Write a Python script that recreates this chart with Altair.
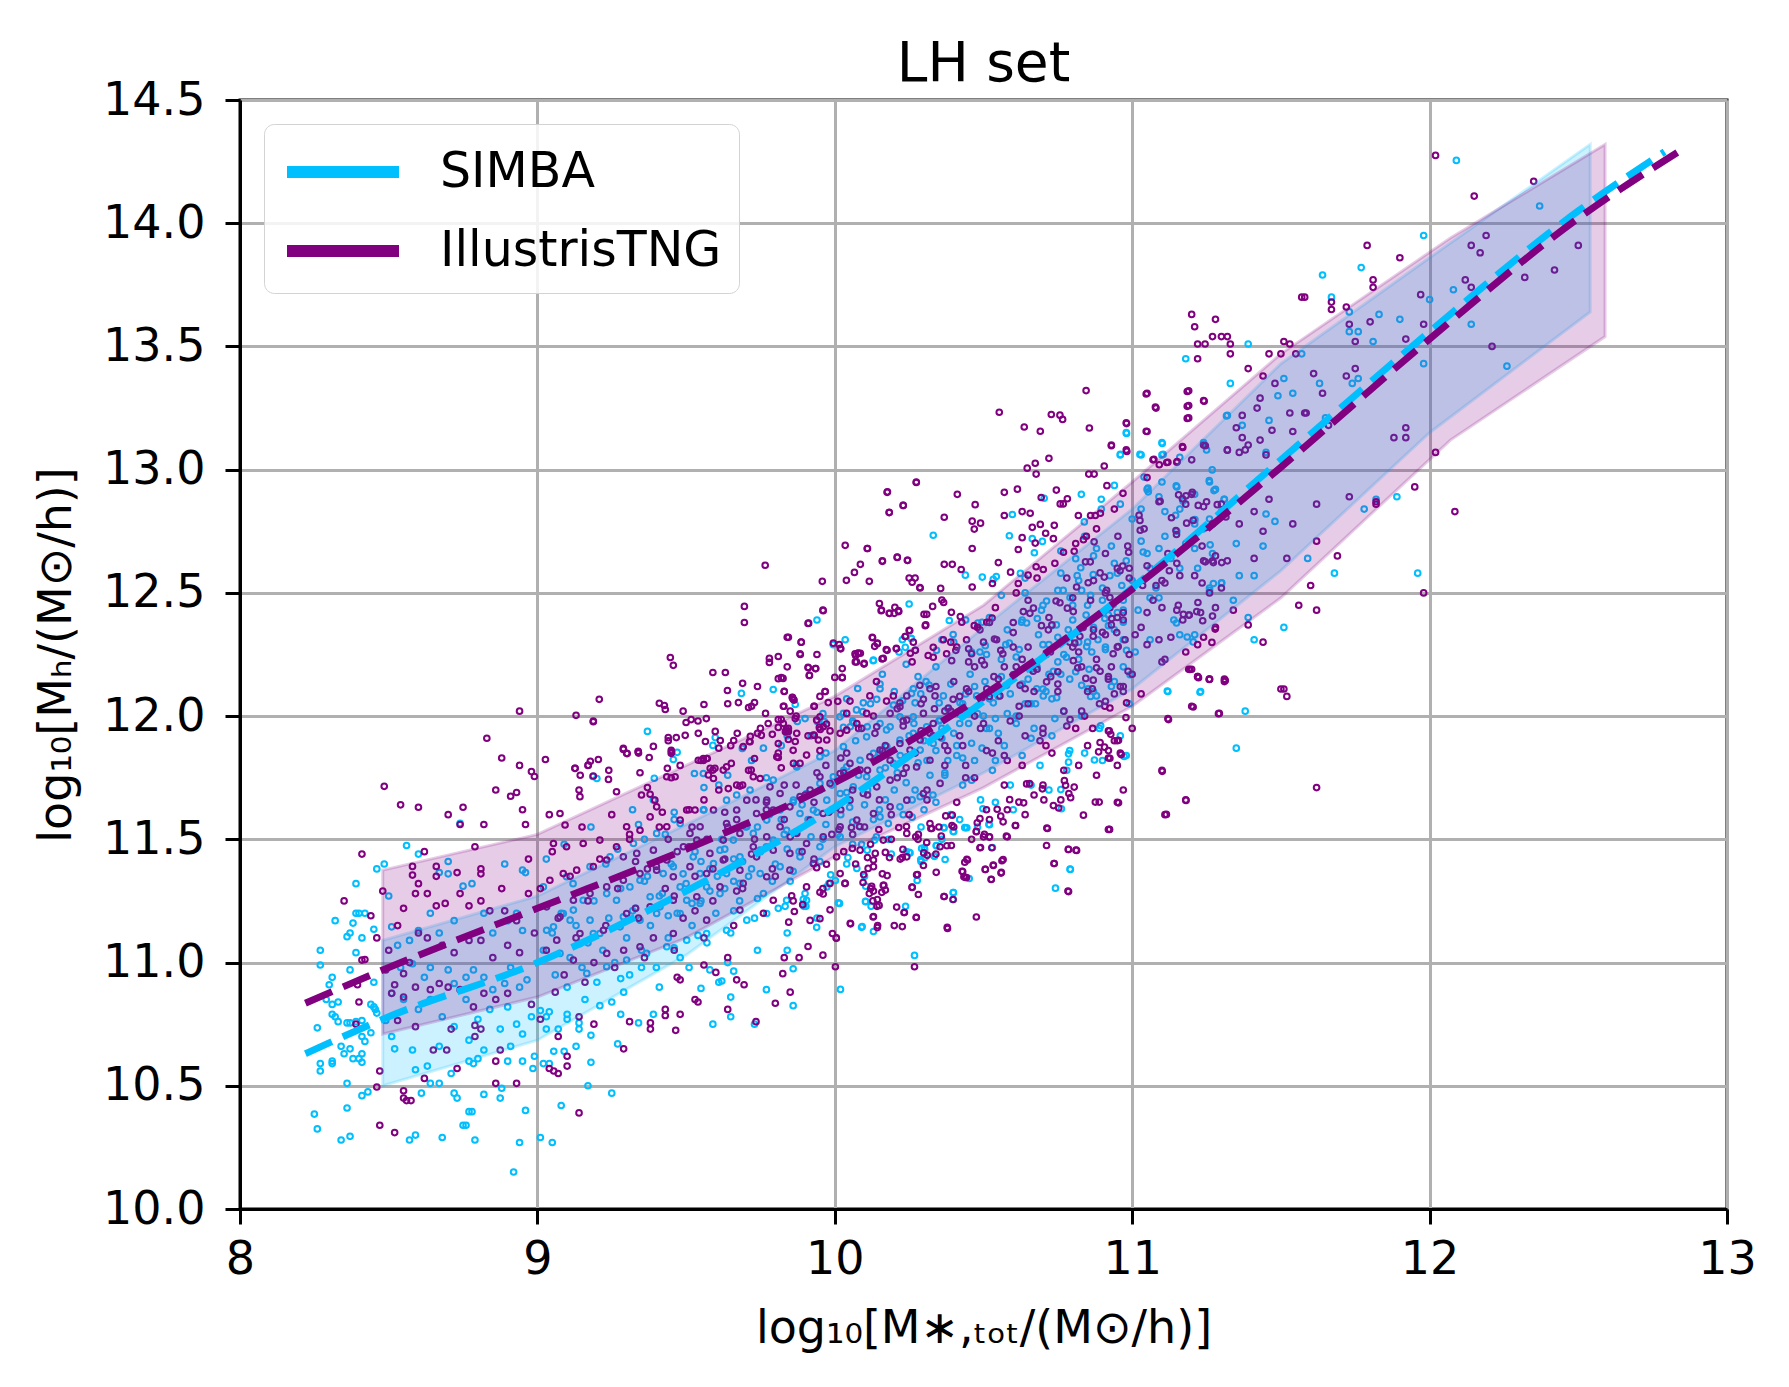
import altair as alt
import pandas as pd

# ---------------- data ----------------
X_TICKS = [8, 9, 10, 11, 12, 13]
Y_TICKS = [10.0, 10.5, 11.0, 11.5, 12.0, 12.5, 13.0, 13.5, 14.0, 14.5]

# mean relations (dashed)
simba_mean_x = [8.22, 8.5, 9.0, 9.5, 10.0, 10.5, 11.0, 11.5, 12.0, 12.5, 12.79]
simba_mean_y = [10.63, 10.78, 11.0, 11.29, 11.63, 12.06, 12.52, 13.04, 13.56, 14.05, 14.29]
tng_mean_x = [8.22, 8.5, 9.0, 9.5, 10.0, 10.5, 11.0, 11.5, 12.0, 12.5, 12.85]
tng_mean_y = [10.835, 10.98, 11.22, 11.46, 11.73, 12.085, 12.515, 13.01, 13.53, 14.02, 14.30]

# scatter bands
simba_band_x = [8.48, 9.0, 9.5, 10.0, 10.5, 11.0, 11.5, 12.0, 12.54]
simba_band_lo = [10.50, 10.685, 11.03, 11.47, 11.77, 12.11, 12.59, 13.15, 13.64]
simba_band_hi = [11.09, 11.27, 11.56, 11.86, 12.36, 12.84, 13.43, 13.86, 14.32]
tng_band_x = [8.48, 9.0, 9.5, 10.0, 10.5, 11.0, 11.5, 12.07, 12.59]
tng_band_lo = [10.71, 10.86, 11.10, 11.43, 11.71, 12.04, 12.48, 13.12, 13.54]
tng_band_hi = [11.375, 11.52, 11.80, 12.08, 12.45, 12.95, 13.47, 13.94, 14.32]

# SIMBA galaxies
simba_low = [
    [8.74,11.565],[8.56,11.475],[8.60,11.44],[8.485,11.40],[8.46,11.38],[8.70,11.41],[8.67,11.365],[8.70,11.36],
    [8.89,11.40],[8.95,11.375],[8.96,11.365],[8.39,11.32],[8.32,11.17],[8.39,11.20],[8.40,11.20],[8.42,11.20],
    [8.38,11.16],[8.37,11.12],[8.36,11.105],[8.41,11.10],[8.45,11.135],[8.27,11.05],[8.39,11.04],[8.27,10.99],
    [8.37,10.97],[8.31,10.94],[8.30,10.91],[8.45,10.92],[8.29,10.85],[8.31,10.83],[8.33,10.84],[8.44,10.83],
    [8.45,10.82],[8.31,10.79],[8.32,10.78],[8.33,10.76],[8.36,10.755],[8.37,10.755],[8.39,10.76],[8.41,10.765],
    [8.455,10.81],[8.46,10.795],[8.26,10.735],[8.44,10.715],[8.41,10.70],[8.42,10.68],[8.34,10.66],[8.37,10.65],
    [8.35,10.63],[8.41,10.63],[8.40,10.61],[8.38,10.61],[8.41,10.595],[8.27,10.59],[8.31,10.59],[8.31,10.60],
    [8.27,10.56],[8.36,10.51],[8.43,10.475],[8.41,10.46],[8.25,10.385],[8.36,10.41],[8.26,10.325],[8.34,10.28],
    [8.37,10.295],[8.57,10.28],[8.59,10.30],[8.68,10.29],[8.79,10.28],[8.75,10.34],[8.76,10.34],[8.77,10.395],
    [8.78,10.395],[8.92,10.15],[8.94,10.27],[9.01,10.29],[9.05,10.27],[8.96,10.40],[9.08,10.42],[9.25,10.47],
    [9.17,10.50],[8.61,10.47],[8.72,10.47],[8.73,10.45],[8.82,10.465],[8.875,10.45],[8.88,10.49],[8.64,10.51],
    [8.67,10.51],[8.71,10.55],[8.59,10.565],[8.63,10.58],[8.77,10.60],[8.785,10.59],[8.80,10.61],[8.90,10.60],
    [8.95,10.60],[8.99,10.62],[8.985,10.57],[9.02,10.59],[9.04,10.59],[9.055,10.64],[9.09,10.64],[9.18,10.595],
    [9.27,10.67],[9.18,10.705],[9.28,10.79],[9.39,10.79],[9.59,10.75],[9.65,10.78],[9.73,10.75],[9.55,10.895],
    [9.65,10.86],[9.77,10.89],[9.86,10.825],[9.61,10.92],[9.62,10.925],[9.66,10.965],[9.58,10.97],[9.86,10.975],
    [9.84,11.05],[9.03,10.78],[9.04,10.80],[9.01,10.805],[9.10,10.79],[9.14,10.755],[9.10,10.77],[9.14,10.73],
    [9.07,10.73],[9.03,10.73],[9.13,10.66],[9.34,10.755],[9.21,10.825],[9.25,10.84],[9.28,10.935],
    [8.50,11.27],[8.51,11.145],[8.53,11.07],[8.57,11.09],[8.60,11.13],[8.64,11.20],[8.67,11.12],[8.72,11.17],
    [8.75,11.31],[8.78,11.32],[8.82,11.20],[8.85,11.12],[8.90,11.17],[8.93,11.20],[8.95,11.13],[8.54,10.98],
    [8.58,10.995],[8.62,10.94],[8.64,10.98],[8.70,10.97],[8.72,10.915],[8.76,10.94],[8.785,10.97],[8.82,10.94],
    [8.85,10.89],[8.89,10.915],[8.91,10.98],[8.94,10.90],[8.965,10.93],[8.51,10.875],[8.55,10.85],[8.60,10.81],
    [8.64,10.85],[8.68,10.78],[8.72,10.74],[8.76,10.85],[8.80,10.77],[8.84,10.81],[8.875,10.73],[8.90,10.82],
    [8.93,10.75],[8.98,10.78],[8.51,10.70],[8.58,10.645],[8.67,10.66],[8.77,10.685],[8.82,10.645],[8.91,10.66],
    [8.95,10.71],[8.49,10.765],[8.52,10.65],
]
simba_mid1 = [
    [9.02,11.05],[9.05,11.12],[9.06,10.95],[9.08,11.20],[9.10,10.90],[9.11,11.02],[9.13,11.15],[9.15,10.98],
    [9.17,11.08],[9.19,11.25],[9.20,10.92],[9.22,11.05],[9.24,11.18],[9.26,11.00],[9.28,11.30],[9.30,11.10],
    [9.31,10.95],[9.33,11.22],[9.35,11.05],[9.37,11.35],[9.38,11.15],[9.40,10.98],[9.42,11.28],[9.44,11.10],
    [9.45,11.40],[9.47,11.20],[9.48,11.02],[9.50,11.32],[9.52,11.15],[9.53,11.45],[9.55,11.25],[9.57,11.08],
    [9.58,11.38],[9.60,11.20],[9.62,11.50],[9.63,11.30],[9.65,11.12],[9.66,11.42],[9.68,11.25],[9.70,11.55],
    [9.71,11.35],[9.73,11.18],[9.75,11.45],[9.76,11.28],[9.78,11.60],[9.80,11.40],[9.81,11.22],[9.83,11.52],
    [9.85,11.33],[9.86,11.65],[9.88,11.45],[9.90,11.28],[9.91,11.58],[9.93,11.40],[9.95,11.70],[9.96,11.50],
    [9.98,11.32],[9.99,11.62],[9.12,11.32],[9.23,11.40],[9.36,11.50],[9.46,11.58],[9.56,11.62],[9.67,11.68],
    [9.77,11.75],[9.87,11.80],[9.97,11.85],[9.16,10.85],[9.29,10.88],[9.41,10.90],[9.51,10.98],[9.64,11.00],
    [9.74,11.05],[9.84,11.12],[9.94,11.18],[9.896,11.228],[9.903,11.228],[9.833,11.228],[9.939,11.143],
    [9.894,11.257],[9.986,11.356],[9.94,12.39],[9.686,12.092],[9.793,12.108],[9.867,12.047],[9.995,12.29],
    [9.874,11.978],[9.90,11.99],[9.941,11.978],[9.965,11.978],[9.37,11.938],[9.598,11.913],[9.47,11.853],
    [9.457,11.824],[9.59,11.881],[9.689,11.869],[9.528,11.767],[9.558,11.767],[9.393,11.748],[9.186,11.755],
    [9.20,11.747],[9.03,11.42],[9.09,11.48],[9.18,11.55],[9.27,11.46],[9.32,11.62],[9.43,11.52],[9.39,11.66],
    [9.61,11.72],[9.72,11.82],[9.82,11.88],[9.92,11.92],
]
simba_core = [
    [9.031,11.131],[9.054,11.145],[9.087,11.199],[9.110,11.172],[9.121,11.213],[9.154,11.253],[9.177,11.172],
    [9.188,11.118],[9.233,11.280],[9.266,11.253],[9.289,11.186],[9.311,11.307],[9.345,11.334],[9.379,11.267],
    [9.401,11.199],[9.423,11.361],[9.457,11.389],[9.480,11.307],[9.502,11.253],[9.524,11.429],[9.547,11.361],
    [9.569,11.307],[9.592,11.402],[9.614,11.456],[9.636,11.361],[9.659,11.497],[9.681,11.429],[9.704,11.551],
    [9.726,11.524],[9.749,11.456],[9.771,11.578],[9.793,11.497],[9.816,11.619],[9.838,11.537],[9.861,11.659],
    [9.883,11.605],[9.905,11.686],[9.928,11.619],[9.950,11.727],[9.973,11.659],[9.995,11.754],[10.018,11.686],
    [10.040,11.794],[10.062,11.713],[10.085,11.821],[10.107,11.754],[10.130,11.849],[10.152,11.781],[10.175,11.876],
    [10.197,11.808],[10.219,11.903],[10.242,11.835],[10.264,11.930],[10.287,11.862],[10.309,11.957],[10.331,11.889],
    [10.354,11.984],[9.076,11.037],[9.143,11.077],[9.210,11.118],[9.278,11.145],[9.345,11.172],[9.412,11.226],
    [9.480,11.199],[9.547,11.240],[9.614,11.280],[9.681,11.321],[9.749,11.361],[9.816,11.389],[9.883,11.429],
    [9.950,11.470],[10.018,11.510],[10.085,11.551],[10.152,11.591],[10.219,11.632],[10.287,11.673],[9.020,11.307],
    [9.098,11.348],[9.177,11.389],[9.244,11.429],[9.323,11.483],[9.401,11.524],[9.480,11.564],[9.558,11.619],
    [9.636,11.659],[9.715,11.700],[9.793,11.740],[9.872,11.794],[9.950,11.835],[10.029,11.876],[10.107,11.916],
    [10.186,11.957],[10.264,11.997],[9.569,11.118],[9.636,11.131],[9.704,11.172],[9.771,11.199],[9.838,11.253],
    [9.905,11.253],[9.973,11.307],[9.502,11.091],[9.435,11.064],[9.367,11.037],[9.300,11.010],[9.233,10.983],
    [9.166,10.956],
    [10.36,11.91],[10.38,12.03],[10.41,11.84],[10.42,11.97],[10.44,12.09],[10.46,11.89],[10.48,12.01],[10.505,12.14],
    [10.52,11.95],[10.545,12.11],[10.56,12.23],[10.58,12.01],[10.605,12.17],[10.62,12.27],[10.64,12.05],[10.66,12.19],
    [10.685,12.33],[10.70,12.11],[10.72,12.29],[10.745,12.37],[10.76,12.17],[10.785,12.35],[10.80,12.45],[10.82,12.23],
    [10.845,12.41],[10.86,12.49],[10.885,12.31],[10.90,12.47],[10.925,12.57],[10.94,12.35],[10.965,12.53],[10.98,12.63],
    [10.37,11.77],[10.43,11.83],[10.495,11.87],[10.55,11.93],[10.61,11.97],[10.675,12.05],[10.73,12.07],[10.79,12.15],
    [10.855,12.19],[10.91,12.27],[10.97,12.31],[10.39,12.13],[10.455,12.17],[10.51,12.25],[10.575,12.29],[10.63,12.39],
    [10.695,12.43],[10.75,12.51],[10.815,12.57],[10.87,12.65],[10.93,12.69],
]
simba_core2 = [
    [9.32,11.21],[9.36,11.33],[9.41,11.27],[9.44,11.19],[9.49,11.36],[9.52,11.24],[9.55,11.41],[9.58,11.29],
    [9.605,11.35],[9.63,11.46],[9.66,11.33],[9.69,11.41],[9.72,11.38],[9.74,11.55],[9.77,11.47],[9.79,11.33],
    [9.82,11.58],[9.84,11.46],[9.87,11.53],[9.89,11.64],[9.92,11.51],[9.94,11.61],[9.97,11.56],[9.99,11.72],
    [10.02,11.60],[10.04,11.69],[10.06,11.57],[10.08,11.76],[10.10,11.64],[10.13,11.73],[10.15,11.62],[10.17,11.79],
    [10.20,11.70],[10.22,11.84],[10.24,11.73],[10.26,11.66],[10.28,11.81],[10.30,11.90],[10.32,11.76],[10.34,11.86],
    [10.36,11.95],[10.38,11.82],[10.40,11.93],[10.43,12.05],[10.45,11.97],[10.47,12.12],[10.50,12.00],[10.52,12.07],
    [10.54,11.99],[10.56,12.16],[10.59,12.09],[10.61,12.24],[10.63,12.13],[10.66,12.05],[10.68,12.20],[10.70,12.29],
    [10.72,12.17],[10.75,12.32],[10.77,12.25],[10.80,12.39],[10.82,12.30],[10.85,12.45],[10.87,12.36],[10.90,12.52],
    [10.92,12.41],[10.95,12.58],[10.97,12.47],[11.00,12.55],[11.03,12.71],[11.06,12.60],[11.08,12.52],[11.11,12.73],
    [11.13,12.64],[11.16,12.84],[11.18,12.70],[11.21,12.90],[11.24,12.76],[11.27,12.66],[11.30,12.83],
    [9.35,10.98],[9.46,11.06],[9.54,11.11],[9.66,11.21],[9.74,11.26],[9.86,11.37],[9.95,11.41],[10.06,11.48],
    [10.14,11.51],[10.26,11.59],[10.34,11.65],[10.46,11.74],[10.54,11.82],[10.66,11.91],[10.74,11.99],[10.86,12.08],
    [10.94,12.14],[11.06,12.31],[11.14,12.39],[11.26,12.51],[9.34,11.56],[9.46,11.61],[9.56,11.71],[9.64,11.76],
    [9.76,11.87],[9.84,11.92],[9.96,12.01],[10.04,12.07],[10.16,12.17],[10.24,12.21],[10.36,12.31],[10.44,12.39],
    [10.56,12.49],[10.64,12.56],[10.76,12.67],[10.84,12.73],[10.96,12.86],[11.04,12.97],[11.16,13.05],[11.24,13.11],
]
simba_mid2 = [
    [10.035,12.31],[10.227,12.31],[10.257,12.315],[10.27,12.267],[10.25,12.455],[10.13,12.227],[10.152,12.13],
    [10.077,12.112],[10.307,12.14],[10.258,12.092],[10.228,12.062],[10.197,12.045],[10.317,12.126],[10.289,12.09],
    [10.029,12.011],[10.094,12.018],[10.052,11.957],[10.063,11.973],[10.109,11.957],[10.152,11.97],[10.174,11.944],
    [10.219,11.997],[10.266,11.97],[10.331,12.734],[10.597,12.818],[10.704,12.884],[10.829,12.90],[10.896,12.88],
    [10.94,12.936],[10.896,12.84],[10.839,12.788],[10.587,12.732],[10.664,12.72],[10.698,12.709],[10.671,12.663],
    [10.439,12.572],[10.496,12.564],[10.543,12.566],[10.533,12.555],[10.624,12.579],[10.81,12.639],[10.827,12.602],
    [10.981,13.147],[10.96,13.062],[11.026,13.062],[11.101,13.106],[11.104,13.062],[11.037,12.666],
    [10.129,12.225],[10.216,12.26],[10.237,12.279],[10.257,12.316],[10.385,12.388],
    [10.398,12.331],[10.342,12.267],[10.481,12.378],[10.495,12.381],[10.488,12.26],[10.506,12.286],[10.587,12.296],
    [10.628,12.381],[10.645,12.378],[10.681,12.396],[10.729,12.367],[10.712,12.467],[10.768,12.51],[10.791,12.481],
    [10.83,12.51],[10.869,12.574],[10.936,12.453],[10.908,12.396],[10.92,12.367],[10.97,12.381],[10.981,12.267],
    [10.847,12.282],[10.864,12.26],[10.779,12.239],[10.83,12.125],[10.852,12.111],[10.88,12.082],[10.993,12.168],
    [10.746,12.075],[10.735,12.182],[10.679,12.111],[10.701,12.082],[10.578,12.125],[10.533,12.054],[10.477,12.082],
    [10.421,12.054],[10.365,12.082],[10.351,12.054],[10.264,12.111],[10.27,12.054],[10.152,12.111],[10.141,12.068],
    [10.096,12.054],[10.073,12.025],[10.017,11.997],[10.029,11.954],
    [10.01,11.52],[10.03,11.78],[10.05,11.63],[10.07,11.90],[10.09,11.48],[10.11,11.70],[10.13,11.58],[10.15,11.85],
    [10.17,11.66],[10.19,11.44],[10.21,11.77],[10.23,11.60],[10.25,11.92],[10.27,11.70],[10.29,11.55],[10.31,11.82],
    [10.33,11.68],[10.35,11.98],[10.37,11.76],[10.39,11.60],[10.41,11.88],[10.43,11.72],[10.45,12.02],[10.47,11.82],
    [10.49,11.66],[10.51,11.95],[10.53,11.78],[10.55,12.08],[10.57,11.88],[10.59,11.72],[10.61,12.00],[10.63,11.84],
    [10.65,12.15],[10.67,11.95],[10.69,11.80],[10.71,12.10],[10.73,11.92],[10.75,12.22],[10.77,12.02],[10.79,11.86],
    [10.81,12.18],[10.83,12.00],[10.85,12.30],[10.87,12.10],[10.89,11.95],[10.91,12.28],[10.93,12.12],[10.95,12.42],
    [10.97,12.20],[10.99,12.05],[10.04,11.40],[10.10,11.35],[10.18,11.50],[10.24,11.45],[10.30,11.62],[10.36,11.50],
    [10.42,11.58],[10.48,11.55],[10.54,11.65],[10.60,11.62],[10.66,11.72],[10.72,11.70],[10.78,11.78],[10.84,11.85],
    [10.90,11.82],[10.96,11.92],[10.06,11.98],[10.12,12.05],[10.20,12.10],[10.28,12.16],[10.34,12.20],[10.40,12.30],
    [10.46,12.26],[10.52,12.40],[10.58,12.35],[10.64,12.50],[10.70,12.45],[10.76,12.58],[10.82,12.55],[10.88,12.68],
    [10.94,12.62],[11.00,12.80],
    [10.335,11.432],[10.342,11.474],[10.289,11.418],[10.253,11.445],[10.301,11.466],[10.40,11.531],[10.367,11.546],
    [10.399,11.284],[10.397,11.256],[10.238,11.228],[10.104,11.247],[10.09,11.143],[10.012,11.242],[10.439,11.547],
    [10.444,11.547],[10.518,11.561],[10.498,11.624],[10.742,11.302],[10.791,11.379],[10.762,11.624],[10.76,11.702],
    [10.786,11.847],[10.786,11.813],[10.873,11.822],[10.894,11.961],[10.973,11.836],[10.792,11.378],[10.53,11.467],
    [10.452,11.341],[10.371,11.418],[10.335,11.431],[10.341,11.475],[10.398,11.284],[10.268,11.029],[10.019,10.891],
    [10.092,11.146],[10.13,11.126],[10.122,11.228],[10.103,11.248],[10.016,11.24],[10.104,11.31],[10.002,11.333],
    [10.277,11.333],[10.074,11.382],[10.29,11.41],[10.304,11.426],[10.25,11.447],[10.044,11.426],[10.109,11.456],
    [10.367,11.548],[10.398,11.532],[10.52,11.559],[10.437,11.548],[10.292,11.463],[10.302,11.459],[10.18,11.564],
    [10.134,11.497],
]
simba_high = [
    [12.09,14.255],[12.37,14.07],[11.98,13.95],[11.77,13.82],[11.64,13.79],[11.67,13.70],[11.73,13.64],
    [12.00,13.69],[11.90,13.61],[12.14,13.59],[11.73,13.56],[11.76,13.56],[11.83,13.63],[11.81,13.52],[12.08,13.73],
    [11.98,13.43],[12.26,13.42],[11.18,13.45],[11.39,13.51],[11.57,13.47],[11.51,13.37],[11.33,13.35],[11.49,13.30],
    [11.54,13.31],[11.63,13.35],[11.74,13.35],[11.76,13.37],[11.32,13.22],[11.46,13.20],[11.65,13.21],[11.37,13.18],
    [10.98,13.15],[10.96,13.06],[11.03,13.06],[11.10,13.11],[11.10,13.06],[11.25,13.08],[11.45,13.07],[11.89,12.89],
    [11.82,12.88],[11.78,12.84],[11.96,12.58],[11.68,12.58],[11.59,12.64],[11.51,12.36],[11.41,12.31],[11.39,12.40],
    [11.23,12.10],[11.12,12.10],[11.38,12.02],[11.35,11.87],[10.98,11.84],[11.317,13.218],
    [11.275,12.915],[11.259,12.956],[11.269,12.999],[11.309,12.88],[11.262,12.695],[11.273,12.538],[11.301,12.541],
    [11.149,12.378],[11.185,12.321],[11.205,12.301],[11.228,12.097],[11.118,12.102],[11.146,12.815],[11.148,12.934],
    [11.171,12.872],[11.211,12.797],[11.054,12.91],[11.053,12.925],
    [11.10,12.95],[11.15,12.93],[11.05,12.92],[11.26,12.95],[11.28,12.92],[11.09,12.89],[11.17,12.88],[11.31,12.88],
    [11.11,12.83],[11.03,12.84],[11.26,12.80],[11.21,12.78],[11.15,12.75],[11.09,12.68],[11.35,12.70],[11.44,12.69],
    [11.48,12.79],[11.45,12.82],[11.21,12.68],[11.05,12.66],[11.16,12.60],[11.22,12.60],[11.30,12.54],[11.26,12.52],
    [11.41,12.57],[11.36,12.57],[11.34,12.47],[11.06,12.48],[11.09,12.48],[10.97,12.43],[11.02,12.43],[11.01,12.26],
    [11.16,12.33],[11.21,12.33],
]

# IllustrisTNG galaxies
tng_low = [
    [8.94,12.02],[8.83,11.91],[8.485,11.715],[8.54,11.64],[8.60,11.63],[8.75,11.63],[8.70,11.60],[8.74,11.56],
    [8.82,11.56],[8.88,11.83],[8.94,11.80],[8.98,11.775],[8.99,11.755],[8.86,11.70],[8.93,11.69],[8.91,11.675],
    [8.95,11.62],[8.96,11.56],[8.41,11.44],[8.62,11.45],[8.58,11.39],[8.66,11.39],[8.73,11.365],[8.81,11.36],
    [8.81,11.38],[8.58,11.355],[8.60,11.32],[8.35,11.25],[8.44,11.19],[8.41,11.01],[8.42,11.012],[8.395,10.91],
    [8.40,10.84],[8.39,10.75],[8.47,10.56],[8.46,10.495],[8.47,10.34],[8.52,10.31],[9.14,10.39],[8.55,10.48],
    [8.56,10.44],[8.575,10.44],[8.55,10.45],[8.86,10.51],[8.93,10.51],[8.62,10.53],[8.73,10.57],[8.86,10.60],
    [9.07,10.55],[9.055,10.56],[9.10,10.62],[9.10,10.58],[9.29,10.65],[9.19,10.75],[9.31,10.76],[9.38,10.755],
    [9.38,10.73],[9.43,10.81],[9.465,10.725],[9.43,10.785],[9.48,10.79],[9.64,10.81],[9.735,10.76],[9.47,10.94],
    [9.48,10.93],[9.53,10.85],[9.54,10.84],[9.80,10.835],[9.85,10.88],[9.695,10.91],[9.67,10.93],[9.60,10.96],
    [9.56,10.99],[9.64,11.02],[9.825,10.955],[9.88,11.02],[9.83,11.02],[9.96,11.03],[10.005,11.10],[9.91,11.065],
    [9.01,10.77],[9.14,10.78],[9.07,10.70],[9.04,10.57],
    [8.48,11.29],[8.55,11.22],[8.59,11.28],[8.63,11.28],[8.66,11.23],[8.69,11.24],[8.74,11.28],[8.77,11.23],
    [8.81,11.25],[8.84,11.21],[8.89,11.21],[8.93,11.17],[8.60,11.12],[8.63,11.10],[8.68,11.07],[8.72,11.04],
    [8.77,11.09],[8.81,11.09],[8.85,11.02],[8.90,11.07],[8.94,11.04],[8.49,10.97],[8.52,10.91],[8.55,10.955],
    [8.59,10.90],[8.64,10.89],[8.67,10.915],[8.70,10.90],[8.74,10.89],[8.785,10.82],[8.82,10.875],[8.86,10.85],
    [8.90,10.875],[8.98,10.83],[8.51,10.875],[8.55,10.86],[8.53,10.765],[8.59,10.74],[8.65,10.645],[8.695,10.645],
    [8.79,10.745],[8.81,10.73],[8.79,10.70],[8.875,10.645],[8.71,10.73],[8.50,11.05],[8.53,11.15],[8.57,11.00],
    [8.66,11.35],[8.79,11.47],[8.88,11.30],[8.97,11.42],[8.46,11.10],[8.97,11.28],[8.99,11.12],
]
tng_core = [
    [9.076,11.605],[9.093,11.558],[9.126,11.788],[9.143,11.673],[9.171,11.801],[9.188,11.977],[9.205,11.824],
    [9.239,11.743],[9.266,11.693],[9.289,11.869],[9.300,11.849],[9.339,11.855],[9.345,11.770],[9.379,11.683],
    [9.395,11.659],[9.401,11.632],[9.435,11.754],[9.451,11.855],[9.463,11.754],[9.502,11.619],[9.530,11.619],
    [9.541,11.821],[9.558,11.828],[9.569,11.828],[9.575,11.761],[9.592,11.747],[9.597,11.788],[9.625,11.781],
    [9.636,11.794],[9.642,11.706],[9.670,11.720],[9.681,11.716],[9.692,11.876],[9.715,11.896],[9.726,11.754],
    [9.749,11.747],[9.782,11.713],[9.805,11.835],[9.810,11.889],[9.838,11.936],[9.844,11.950],[9.861,11.808],
    [9.872,11.930],[9.883,11.808],[9.905,11.842],[9.928,11.923],[9.945,11.903],[9.961,11.957],[9.973,11.903],
    [9.939,11.984],[10.018,11.930],[10.040,11.943],[10.074,11.970],[10.107,12.011],[10.141,11.957],[10.186,12.011],
    [10.219,12.038],[10.242,11.984],[10.298,12.011],[10.331,11.970],[9.054,11.483],[9.098,11.470],[9.154,11.483],
    [9.210,11.497],[9.266,11.470],[9.300,11.551],[9.345,11.537],[9.379,11.591],[9.435,11.551],[9.480,11.578],
    [9.513,11.524],[9.547,11.551],[9.592,11.619],[9.636,11.564],[9.670,11.619],[9.704,11.659],[9.737,11.605],
    [9.771,11.659],[9.793,11.619],[9.816,11.686],[9.849,11.632],[9.883,11.673],[9.917,11.700],[9.950,11.754],
    [9.984,11.727],[10.018,11.767],[10.051,11.808],[10.085,11.781],[10.118,11.835],[10.152,11.862],[10.186,11.821],
    [10.219,11.889],[10.253,11.862],[10.287,11.903],[10.320,11.930],[10.354,11.916],[9.042,11.334],[9.087,11.361],
    [9.132,11.375],[9.188,11.389],[9.233,11.416],[9.289,11.429],[9.334,11.443],[9.390,11.456],[9.435,11.416],
    [9.491,11.470],[9.536,11.497],[9.580,11.443],[9.625,11.497],[9.681,11.524],[9.726,11.470],[9.771,11.510],
    [9.816,11.551],[9.872,11.524],[9.917,11.578],[9.961,11.605],[10.006,11.632],[10.051,11.659],[10.096,11.686],
    [10.141,11.713],[10.186,11.740],[10.231,11.767],[10.275,11.794],[10.320,11.821],[9.031,11.226],[9.076,11.186],
    [9.121,11.253],[9.177,11.280],[9.233,11.307],[9.289,11.334],[9.345,11.361],[9.401,11.375],[9.457,11.348],
    [9.513,11.389],[9.569,11.361],[9.625,11.416],[9.681,11.375],[9.737,11.429],[9.793,11.456],[9.849,11.443],
    [9.905,11.483],[9.961,11.510],[10.018,11.551],[10.074,11.578],[10.130,11.605],[10.186,11.632],[10.242,11.659],
    [10.298,11.686],[10.354,11.727],[9.065,11.091],[9.143,11.118],[9.222,11.131],[9.300,11.199],[9.379,11.226],
    [9.457,11.253],[9.536,11.267],[9.614,11.307],[9.692,11.321],[9.771,11.348],[9.849,11.375],[9.928,11.402],
    [10.006,11.429],[10.085,11.456],[10.163,11.497],[10.242,11.524],[10.320,11.564],[9.121,11.010],[9.233,11.037],
    [9.345,11.064],[9.457,11.118],[9.569,11.172],[9.681,11.213],[9.793,11.253],[9.905,11.307],[10.018,11.361],
    [10.130,11.389],[10.242,11.429],[10.354,11.470],
    [10.37,12.02],[10.40,12.14],[10.42,11.92],[10.45,12.22],[10.47,12.00],[10.50,12.30],[10.52,12.08],[10.55,11.90],
    [10.57,12.20],[10.60,12.38],[10.62,12.00],[10.65,12.28],[10.67,12.10],[10.70,11.95],[10.72,12.40],[10.75,12.18],
    [10.77,12.02],[10.80,12.48],[10.82,12.26],[10.85,12.10],[10.87,12.55],[10.90,12.34],[10.92,12.16],[10.95,12.60],
    [10.97,12.42],[10.99,12.25],[10.38,11.86],[10.44,11.80],[10.51,11.86],[10.58,11.82],[10.64,11.92],[10.71,11.88],
    [10.78,11.96],[10.84,12.00],[10.91,12.06],[10.97,12.10],[10.41,12.28],[10.48,12.36],[10.54,12.44],[10.61,12.50],
    [10.68,12.56],[10.74,12.62],[10.81,12.70],[10.88,12.76],[10.94,12.84],
]
tng_core2 = [
    [9.31,11.52],[9.34,11.18],[9.37,11.71],[9.40,11.39],[9.42,11.61],[9.46,11.27],[9.48,11.80],[9.51,11.47],
    [9.53,11.21],[9.56,11.66],[9.59,11.38],[9.61,11.87],[9.64,11.55],[9.67,11.29],[9.69,11.72],[9.72,11.44],
    [9.74,11.93],[9.77,11.62],[9.80,11.35],[9.82,11.79],[9.85,11.51],[9.87,12.00],[9.90,11.68],[9.93,11.42],
    [9.95,11.86],[9.98,11.61],[10.01,12.06],[10.03,11.77],[10.06,11.52],[10.09,11.95],[10.11,11.68],[10.14,12.14],
    [10.16,11.86],[10.19,11.60],[10.21,12.03],[10.24,11.79],[10.26,12.22],[10.29,11.94],[10.31,11.66],[10.34,12.12],
    [10.37,11.88],[10.39,12.30],[10.42,12.01],[10.44,11.75],[10.47,12.20],[10.50,11.97],[10.52,12.38],[10.55,12.11],
    [10.57,11.84],[10.60,12.28],[10.62,12.04],[10.65,12.47],[10.68,12.19],[10.70,11.93],[10.73,12.37],[10.75,12.13],
    [10.78,12.56],[10.80,12.28],[10.83,12.02],[10.86,12.47],[10.88,12.23],[10.91,12.66],[10.93,12.37],[10.96,12.12],
    [10.99,12.56],[11.01,12.33],[11.04,12.76],[11.07,12.47],[11.10,12.22],[11.12,12.66],[11.15,12.43],[11.18,12.86],
    [11.21,12.57],[11.24,12.32],[11.27,12.78],[11.30,12.52],
    [9.33,11.41],[9.44,11.50],[9.52,11.55],[9.63,11.61],[9.735,11.66],[9.83,11.72],[9.94,11.77],[10.02,11.83],
    [10.135,11.93],[10.23,11.96],[10.335,12.03],[10.42,12.08],[10.535,12.16],[10.63,12.23],[10.725,12.26],[10.835,12.36],
    [10.925,12.44],[11.035,12.53],[11.125,12.59],[11.235,12.69],
]
tng_mid1 = [
    [9.01,11.30],[9.03,11.05],[9.05,11.45],[9.07,11.18],[9.09,10.95],[9.11,11.35],[9.13,11.10],[9.15,11.55],
    [9.17,11.25],[9.19,11.00],[9.21,11.42],[9.23,11.15],[9.25,11.60],[9.27,11.30],[9.29,11.05],[9.31,11.50],
    [9.33,11.22],[9.35,11.68],[9.37,11.38],[9.39,11.10],[9.41,11.55],[9.43,11.30],[9.45,11.75],[9.47,11.45],
    [9.49,11.18],[9.51,11.62],[9.53,11.35],[9.55,11.82],[9.57,11.50],[9.59,11.25],[9.61,11.70],[9.63,11.42],
    [9.65,11.88],[9.67,11.58],[9.69,11.30],[9.71,11.78],[9.73,11.50],[9.75,11.95],[9.77,11.65],[9.79,11.38],
    [9.81,11.85],[9.83,11.58],[9.85,12.02],[9.87,11.72],[9.89,11.45],[9.91,11.92],[9.93,11.65],[9.95,12.08],
    [9.97,11.80],[9.99,11.52],[9.04,11.60],[9.14,11.70],[9.24,11.78],[9.34,11.85],[9.44,11.90],[9.54,11.98],
    [9.64,12.05],[9.74,12.12],[9.84,12.20],[9.94,12.25],[9.06,10.88],[9.16,10.92],[9.26,10.98],[9.36,11.02],
    [9.46,11.05],[9.56,11.10],[9.66,11.15],[9.76,11.20],[9.86,11.25],[9.96,11.30],
    [10.274,12.95],[10.177,12.91],[10.183,12.827],[10.23,12.855],[10.035,12.693],[10.11,12.68],[10.16,12.63],
    [10.21,12.644],[10.245,12.632],[10.086,12.616],[10.066,12.583],[10.039,12.551],[10.116,12.547],[10.25,12.56],
    [10.27,12.56],[10.26,12.543],[10.287,12.52],[9.766,12.612],[9.958,12.547],[9.696,12.445],[9.696,12.38],
    [9.96,12.43],[9.91,12.376],[9.84,12.32],[9.887,12.30],[9.884,12.25],[9.78,12.234],[9.78,12.218],[9.81,12.242],
    [9.91,12.198],[9.935,12.193],[9.915,12.165],[9.447,12.238],[9.457,12.206],[9.59,12.177],[9.632,12.177],
    [9.69,12.133],[9.639,12.104],[9.83,12.10],[9.81,12.152],[9.82,12.156],[9.857,12.076],[9.86,12.068],
    [9.967,12.10],[9.208,12.068],[9.13,12.003],[9.188,11.98],[9.41,12.052],[9.427,12.043],[9.43,12.027],
    [9.49,12.02],[9.56,12.047],[9.676,12.055],[9.71,12.035],[9.73,12.055],[9.72,12.04],[9.767,12.011],
    [9.827,12.04],[9.931,12.04],[9.978,12.055],[10.025,12.193],[10.025,12.157],[10.0,12.157],[10.127,12.318],
    [10.134,12.283],[10.143,12.294],[10.015,12.29],[10.019,12.275],[10.07,12.246],[10.08,12.255],[10.086,12.255],
    [10.069,12.22],[10.099,12.214],[10.163,12.234],[10.173,12.27],[10.207,12.275],[10.237,12.323],[10.25,12.348],
    [10.264,12.30],[10.254,12.255],[10.157,12.43],[10.183,12.417],[10.20,12.417],[10.214,12.428],[10.15,12.457],
    [10.309,12.413],[10.306,12.37],
    [9.027,11.824],[9.127,11.788],[9.144,11.76],[9.17,11.80],[9.178,11.817],[9.188,11.757],[9.289,11.865],
    [9.302,11.848],[9.339,11.857],[9.376,11.832],[9.39,11.877],[9.437,11.788],[9.44,11.913],[9.467,11.913],
    [9.45,11.861],[9.45,11.849],[9.497,11.922],[9.50,11.974],[9.517,11.986],[9.568,11.99],[9.541,11.93],
    [9.565,11.897],[9.598,11.938],[9.615,11.901],[9.672,11.93],[9.66,11.901],[9.716,11.918],[9.713,11.897],
    [9.753,11.922],[9.776,11.97],[9.81,11.986],[9.82,11.986],[9.827,11.97],[9.867,11.99],[9.79,11.926],
    [9.837,11.946],[9.844,11.938],[9.834,11.937],[9.81,11.954],[9.844,11.905],[9.931,11.922],[9.948,11.954],
    [9.951,11.946],[9.867,11.897],[9.86,11.861],[9.81,11.832],[9.73,11.828],[9.652,11.808],[9.719,11.781],
    [9.571,11.828],[9.558,11.82],[9.581,11.788],[9.59,11.781],
]
tng_mid2 = [
    [10.845,13.321],[10.553,13.233],[10.637,13.173],[10.691,13.156],[10.728,13.224],[10.757,13.221],[10.766,13.204],
    [10.856,13.169],[10.72,13.046],[10.674,13.026],[10.647,13.006],[10.677,12.982],[10.854,12.982],[10.872,12.982],
    [10.906,13.015],[10.93,13.097],[10.982,13.074],[10.981,13.187],[10.176,12.908],[10.274,12.948],[10.23,12.855],
    [10.183,12.826],[10.412,12.90],[10.472,12.858],[10.368,12.807],[10.462,12.791],[10.49,12.783],[10.469,12.759],
    [10.57,12.908],[10.614,12.921],[10.57,12.814],[10.63,12.83],[10.657,12.823],[10.694,12.887],[10.745,12.917],
    [10.782,12.882],[10.758,12.861],[10.768,12.861],[10.915,12.935],[10.969,12.904],[10.86,12.814],[10.876,12.814],
    [10.893,12.823],[10.819,12.814],[10.664,12.766],[10.691,12.778],[10.709,12.742],[10.738,12.774],[10.63,12.724],
    [10.674,12.702],[10.617,12.676],[10.735,12.72],[10.462,12.68],[10.109,12.68],[10.16,12.628],
    [10.21,12.645],[10.244,12.632],[10.368,12.616],[10.395,12.616],[10.425,12.595],[10.462,12.524],[10.356,12.518],
    [10.286,12.522],[10.53,12.538],[10.55,12.623],[10.591,12.584],[10.65,12.572],[10.677,12.606],[10.701,12.595],
    [10.617,12.538],[10.769,12.665],[10.805,12.669],[10.843,12.626],[10.859,12.626],[10.872,12.707],[10.836,12.716],
    [10.846,12.73],[10.959,12.59],[10.968,12.609],[10.985,12.69],[10.988,12.665],[10.952,12.73],
    [9.961,12.428],[9.912,12.377],[9.844,12.32],[9.887,12.30],[9.883,12.253],[9.911,12.196],[9.936,12.193],
    [9.914,12.165],[9.826,12.153],[9.83,12.101],[9.858,12.075],[9.863,12.065],[9.829,12.04],[9.93,12.04],
    [9.968,12.10],[9.995,12.296],[10.02,12.273],[10.025,12.156],[10.068,12.253],[10.078,12.256],
    [10.073,12.22],[10.098,12.211],[10.126,12.32],[10.143,12.296],[10.159,12.232],[10.176,12.267],[10.207,12.273],
    [10.252,12.347],[10.237,12.323],[10.271,12.267],[10.184,12.417],[10.215,12.424],[10.202,12.441],
    [10.156,12.428],[10.30,12.413],[10.304,12.367],[10.329,12.445],[10.36,12.471],[10.366,12.461],[10.392,12.421],
    [10.422,12.404],[10.427,12.381],[10.365,12.31],[10.331,12.279],[10.314,12.246],[10.331,12.239],[10.376,12.253],
    [10.407,12.267],[10.393,12.225],[10.443,12.31],[10.469,12.367],[10.488,12.35],[10.511,12.381],[10.529,12.398],
    [10.537,12.313],[10.544,12.31],[10.45,12.273],[10.46,12.253],[10.494,12.225],[10.503,12.208],[10.558,12.267],
    [10.565,12.253],[10.60,12.339],[10.634,12.424],[10.656,12.417],[10.668,12.438],[10.695,12.367],[10.718,12.35],
    [10.744,12.467],[10.757,12.46],[10.782,12.438],[10.802,12.424],[10.813,12.524],[10.852,12.541],[10.892,12.581],
    [10.906,12.564],[10.914,12.51],[10.925,12.481],[10.931,12.396],[10.948,12.339],[10.976,12.31],[10.953,12.282],
    [10.936,12.253],[10.869,12.324],[10.824,12.324],[10.807,12.296],[10.802,12.225],[10.817,12.196],[10.844,12.153],
    [10.869,12.146],[10.866,12.111],[10.908,12.04],[10.925,12.033],[10.981,12.054],[10.986,12.182],[10.88,12.196],
    [10.892,12.182],[10.712,12.139],[10.726,12.16],[10.667,12.182],[10.623,12.125],[10.64,12.111],[10.60,12.168],
    [10.555,12.082],[10.511,12.111],[10.495,12.075],[10.443,12.111],[10.398,12.068],[10.382,12.033],[10.32,12.111],
    [10.337,12.082],[10.286,12.125],[10.298,12.068],[10.242,12.082],[10.219,12.054],[10.197,12.082],[10.174,12.061],
    [10.118,12.082],[10.051,12.061],[10.04,12.011],[9.95,11.997],[9.972,11.968],[9.984,11.94],
    [10.02,11.62],[10.04,11.85],[10.06,11.70],[10.08,11.95],[10.10,11.55],[10.11,11.78],[10.13,12.00],[10.15,11.66],
    [10.17,11.88],[10.19,11.50],[10.21,11.75],[10.23,11.98],[10.25,11.60],[10.27,11.85],[10.29,12.05],[10.31,11.70],
    [10.33,11.92],[10.35,11.55],[10.37,11.80],[10.39,12.02],[10.41,11.65],[10.43,11.88],[10.45,12.10],[10.47,11.75],
    [10.49,11.95],[10.51,11.62],[10.53,11.85],[10.55,12.15],[10.57,11.72],[10.59,11.98],[10.61,12.20],[10.63,11.80],
    [10.65,12.05],[10.67,11.68],[10.69,11.90],[10.71,12.25],[10.73,11.85],[10.75,12.10],[10.77,11.78],[10.79,12.30],
    [10.81,11.95],[10.83,12.20],[10.85,11.88],[10.87,12.35],[10.89,12.05],[10.91,12.50],[10.93,12.20],[10.95,12.40],
    [10.97,12.12],[10.99,12.60],[10.03,11.45],[10.07,11.40],[10.12,11.48],[10.16,11.36],[10.22,11.42],[10.28,11.50],
    [10.34,11.44],[10.40,11.55],[10.46,11.50],[10.52,11.58],[10.58,11.62],[10.64,11.60],[10.70,11.72],[10.76,11.66],
    [10.82,11.80],[10.88,11.76],[10.94,11.90],[11.00,11.95],
    [10.979,11.994],[10.923,11.94],[10.928,11.926],[10.892,11.893],[10.907,11.874],[10.925,11.829],[10.887,11.855],
    [10.954,11.902],[10.963,11.844],[10.95,11.80],[10.954,11.648],[10.923,11.541],[10.867,11.95],[10.791,11.986],
    [10.876,11.651],[10.889,11.651],[10.836,11.598],[10.805,11.712],[10.772,11.738],[10.776,11.719],[10.787,11.686],
    [10.793,11.669],[10.753,11.627],[10.703,11.66],[10.735,11.637],[10.698,11.705],[10.713,11.546],[10.785,11.459],
    [10.811,11.456],[10.737,11.402],[10.784,11.29],[10.619,11.651],[10.635,11.648],[10.655,11.726],[10.645,11.725],
    [10.588,11.661],[10.608,11.556],[10.562,11.413],[10.533,11.396],[10.559,11.363],[10.526,11.338],[10.506,11.378],
    [10.43,11.369],[10.439,11.345],[10.444,11.419],[10.488,11.466],[10.528,11.466],[10.58,11.51],[10.52,11.51],
    [10.476,11.531],[10.50,11.51],[10.488,11.584],[10.546,11.622],[10.558,11.594],[10.394,11.556],[10.377,11.474],
    [10.326,11.544],[10.395,11.598],[10.373,11.595],[10.272,11.51],[10.309,11.487],[10.299,11.445],[10.275,11.356],
    [10.26,11.306],[10.234,11.203],[10.367,11.268],[10.378,11.143],[10.476,11.185],[10.274,11.184],[10.208,11.225],
    [10.20,11.15],[10.144,11.15],[10.129,11.185],[10.142,11.228],[10.128,11.25],[10.158,11.285],[10.165,11.313],
    [10.121,11.30],[10.053,11.157],[9.984,11.214],[9.95,11.178],[9.917,11.171],[9.892,11.235],[9.845,11.164],
    [9.864,11.207],[9.855,11.271],[9.95,11.285],[9.961,11.278],[9.984,11.321],[9.939,11.385],[9.972,11.399],
    [10.034,11.321],[10.715,11.544],[10.924,11.54],[10.607,11.556],[10.566,11.571],[10.712,11.475],[10.786,11.459],
    [10.813,11.455],[10.738,11.402],[10.786,11.288],[10.566,11.418],[10.533,11.394],[10.506,11.378],[10.56,11.366],
    [10.526,11.337],[10.49,11.467],[10.428,11.37],[10.434,11.348],[10.443,11.345],[10.437,11.407],[10.446,11.416],
    [10.341,11.366],[10.392,11.475],[10.398,11.256],[10.368,11.268],[10.379,11.138],[10.274,11.183],
    [10.233,11.203],[10.268,10.983],[10.002,10.983],[10.005,11.099],[9.992,11.118],[10.052,11.159],[10.143,11.142],
    [10.227,11.146],[10.13,11.187],[10.149,11.232],[10.143,11.256],[10.116,11.28],[10.035,11.321],
    [10.095,11.325],[10.124,11.309],[10.13,11.29],[10.17,11.294],[10.163,11.313],[10.26,11.305],[10.281,11.276],
    [10.278,11.357],[10.176,11.353],[10.097,11.357],[10.112,11.382],[10.298,11.394],[10.311,11.435],[10.229,11.459],
    [10.184,11.426],[10.227,11.426],[10.17,11.447],[10.136,11.443],[10.13,11.416],[10.11,11.426],[10.059,11.463],
    [10.014,11.54],[10.056,11.548],[10.083,11.552],[10.148,11.54],[10.215,11.548],[10.241,11.552],[10.281,11.52],
    [10.323,11.544],[10.358,11.513],[10.476,11.532],[10.479,11.567],[10.503,11.52],[10.52,11.509],[10.577,11.513],
]
tng_high = [
    [11.047,13.307],[11.078,13.254],[11.047,13.156],[11.073,13.042],[11.091,13.02],[11.116,13.029],[11.151,13.033],
    [11.169,13.094],[11.185,13.317],[11.185,13.257],[11.185,13.208],[11.242,13.278],[11.246,13.097],[11.32,13.079],
    [11.05,12.968],[11.094,12.872],[11.132,12.805],[11.147,12.753],[11.149,12.737],[11.183,12.783],[11.205,12.794],
    [11.25,12.766],[11.286,12.858],[11.25,12.87],[11.222,12.855],[11.202,12.908],[11.181,12.894],[11.156,12.898],
    [11.169,12.882],[11.315,12.808],[11.246,12.626],[11.273,12.623],[11.301,12.623],[11.221,12.461],[11.217,12.424],
    [11.192,12.41],[11.172,12.413],[11.237,12.387],[11.27,12.406],[11.279,12.353],[11.268,12.299],[11.194,12.189],
    [11.223,12.156],[11.259,12.149],[11.313,12.145],[11.205,12.037],[11.293,12.011],[11.122,11.986],[11.101,11.776],
    [11.181,11.658],[11.115,11.601],[11.027,12.754],[11.026,12.794],[11.023,12.815],
    [12.085,12.83],[11.98,12.50],[11.69,12.65],[11.62,12.71],[11.60,12.53],[11.56,12.45],[11.62,12.43],[11.44,12.30],
    [11.39,12.37],[11.50,12.11],[11.52,12.08],[11.31,12.15],[11.26,12.15],[11.22,12.16],[11.19,12.19],[11.29,12.01],
    [11.20,12.04],[11.12,11.99],[11.10,11.78],[11.62,11.71],[11.18,11.66],[11.11,11.60],[10.97,11.70],[10.95,11.65],
    [10.92,11.54],[10.96,11.85],[10.92,11.83],[10.95,11.90],[10.92,11.94],[10.92,11.86],[11.82,12.87],
    [12.02,14.275],[12.35,14.17],[12.15,14.11],[11.79,13.91],[11.90,13.86],[12.14,13.91],[12.19,13.95],[12.17,13.88],
    [12.50,13.91],[12.42,13.81],[12.32,13.78],[12.12,13.77],[12.14,13.74],[11.81,13.77],[11.81,13.74],[11.57,13.70],
    [11.58,13.70],[11.67,13.68],[11.67,13.65],[11.72,13.66],[11.97,13.71],[11.98,13.59],[11.73,13.59],[11.80,13.60],
    [11.75,13.52],[11.92,13.53],[12.21,13.50],[11.20,13.63],[11.28,13.61],[11.21,13.58],[11.27,13.54],[11.30,13.54],
    [11.32,13.54],[11.22,13.51],[11.245,13.51],[11.33,13.51],[11.33,13.47],[11.22,13.45],[11.39,13.41],[11.51,13.52],
    [11.53,13.51],[11.46,13.47],[11.50,13.47],[11.55,13.47],[11.44,13.38],[11.48,13.35],[11.05,13.31],[11.08,13.25],
    [11.19,13.32],[11.19,13.26],[11.19,13.21],[11.24,13.28],[11.61,13.39],[11.64,13.31],[11.72,13.38],[11.75,13.41],
    [11.42,13.25],[11.43,13.29],[11.37,13.22],[11.53,13.23],[11.58,13.23],[11.585,13.23],[11.66,13.18],[11.47,13.16],
    [11.35,13.17],[11.05,13.155],[10.98,13.19],[10.93,13.10],[10.98,13.08],[11.17,13.09],[11.24,13.10],[11.37,13.13],
    [11.39,13.10],[11.38,13.08],[11.32,13.08],[11.36,13.07],[11.43,13.12],[11.54,13.155],[11.45,13.06],[11.07,13.04],
    [11.12,13.03],[11.15,13.03],[11.20,13.04],[11.88,13.13],[11.92,13.13],[11.92,13.17],[12.02,13.07],[11.95,12.93],
    [11.82,12.86],[11.73,12.89],[11.62,12.86],
    [11.09,12.87],[11.20,12.90],[11.24,12.85],[11.30,12.86],[11.41,12.83],[11.36,12.78],[11.46,12.88],[11.54,12.78],
    [11.52,12.64],[11.41,12.64],[11.32,12.63],[11.27,12.63],[11.28,12.65],[11.24,12.63],[11.15,12.62],[11.05,12.61],
    [11.10,12.55],[11.08,12.53],[11.11,12.54],[11.16,12.57],[11.235,12.54],[11.26,12.50],[11.28,12.44],[11.23,12.42],
    [11.19,12.41],[11.17,12.39],[11.155,12.45],[11.10,12.44],[11.05,12.42],[11.03,12.36],[11.05,12.29],[11.09,12.31],
    [11.13,12.32],[11.22,12.29],[11.28,12.36],[11.34,12.43],[11.44,12.75],[11.20,12.19],[11.22,12.16],[11.26,12.15],
    [11.31,12.14],[11.51,12.11],[11.11,12.23],[11.18,12.26],[11.03,12.09],[11.00,12.17],[10.94,12.09],[10.92,12.15],
    [10.95,12.28],[10.91,12.33],[10.97,12.39],
]

SERIES = ["SIMBA", "IllustrisTNG"]
COLORS = ["#00bfff", "#800080"]

# ---------------- tables ----------------
def pts(rows, name):
    return pd.DataFrame({"x": [r[0] for r in rows], "y": [r[1] for r in rows], "series": name})

simba_df = pd.concat([pts(s, "SIMBA") for s in
                      (simba_low, simba_mid1, simba_core, simba_core2, simba_mid2, simba_high)])
tng_df = pd.concat([pts(s, "IllustrisTNG") for s in
                    (tng_low, tng_core, tng_core2, tng_mid1, tng_mid2, tng_high)])

simba_band = pd.DataFrame({"x": simba_band_x, "lo": simba_band_lo, "hi": simba_band_hi})
tng_band = pd.DataFrame({"x": tng_band_x, "lo": tng_band_lo, "hi": tng_band_hi})
means = pd.concat([
    pd.DataFrame({"x": simba_mean_x, "y": simba_mean_y, "series": "SIMBA", "o": range(len(simba_mean_x))}),
    pd.DataFrame({"x": tng_mean_x, "y": tng_mean_y, "series": "IllustrisTNG", "o": range(len(tng_mean_x))}),
])

FONT = "DejaVu Sans"
xscale = alt.Scale(domain=[8, 13], nice=False, zero=False)
yscale = alt.Scale(domain=[10, 14.5], nice=False, zero=False)

X = alt.X("x:Q", scale=xscale,
          axis=alt.Axis(values=X_TICKS, format="d", title="log₁₀[M∗,ₜₒₜ/(M⊙/h)]"))
Y = alt.Y("y:Q", scale=yscale,
          axis=alt.Axis(values=Y_TICKS, format=".1f", title="log₁₀[Mₕ/(M⊙/h)]"))

scat_s = alt.Chart(simba_df).mark_point(filled=False, size=32, strokeWidth=2,
                                        color=COLORS[0], opacity=1).encode(x=X, y=Y)
scat_t = alt.Chart(tng_df).mark_point(filled=False, size=32, strokeWidth=2,
                                      color=COLORS[1], opacity=1).encode(x=X, y=Y)

band_s = alt.Chart(simba_band).mark_area(color=COLORS[0], fillOpacity=0.2, stroke=COLORS[0],
                                         strokeOpacity=0.2, strokeWidth=3).encode(
    x=alt.X("x:Q", scale=xscale), y=alt.Y("lo:Q", scale=yscale), y2="hi:Q")
band_t = alt.Chart(tng_band).mark_area(color=COLORS[1], fillOpacity=0.2, stroke=COLORS[1],
                                       strokeOpacity=0.2, strokeWidth=3).encode(
    x=alt.X("x:Q", scale=xscale), y=alt.Y("lo:Q", scale=yscale), y2="hi:Q")

lines = alt.Chart(means).mark_line(strokeDash=[29, 12], strokeWidth=7, interpolate="monotone", clip=True).encode(
    x=X, y=Y, order="o:Q",
    color=alt.Color("series:N",
                    scale=alt.Scale(domain=SERIES, range=COLORS),
                    sort=SERIES,
                    legend=alt.Legend(title=None, orient="top-left", offset=24,
                                      symbolType="M-1,0H3.48", symbolSize=2500, symbolStrokeWidth=12,
                                      symbolDash=[1, 0],
                                      labelFontSize=49, labelFont=FONT, labelColor="black", labelLimit=800,
                                      labelOffset=97, rowPadding=23, padding=17,
                                      fillColor="rgba(255,255,255,0.85)", strokeColor="#d3d3d3",
                                      cornerRadius=10)),
)

chart = alt.layer(scat_s, scat_t, band_s, band_t, lines).properties(
    width=1487, height=1109,
    autosize=alt.AutoSizeParams(type="none"),
    padding={"left": 232, "top": 92, "right": 50, "bottom": 160},
    title=alt.TitleParams("LH set", fontSize=55, font=FONT, fontWeight="normal", color="black",
                          baseline="bottom", offset=-10, dy=61, anchor="middle", frame="group"),
).configure_view(stroke="black", strokeWidth=3).configure_axis(
    labelFont=FONT, titleFont=FONT, labelFontSize=46, titleFontSize=46, titleFontWeight="normal",
    labelColor="black", titleColor="black", domainColor="black", domainWidth=3,
    tickColor="black", tickWidth=3, tickSize=15, gridColor="#b0b0b0", gridWidth=3, grid=True,
    labelFlush=False, labelOverlap=False,
).configure_axisX(labelPadding=13, titlePadding=24).configure_axisY(labelPadding=20, titlePadding=22)

chart.save("out.html", embed_options={"renderer": "svg", "actions": False})
